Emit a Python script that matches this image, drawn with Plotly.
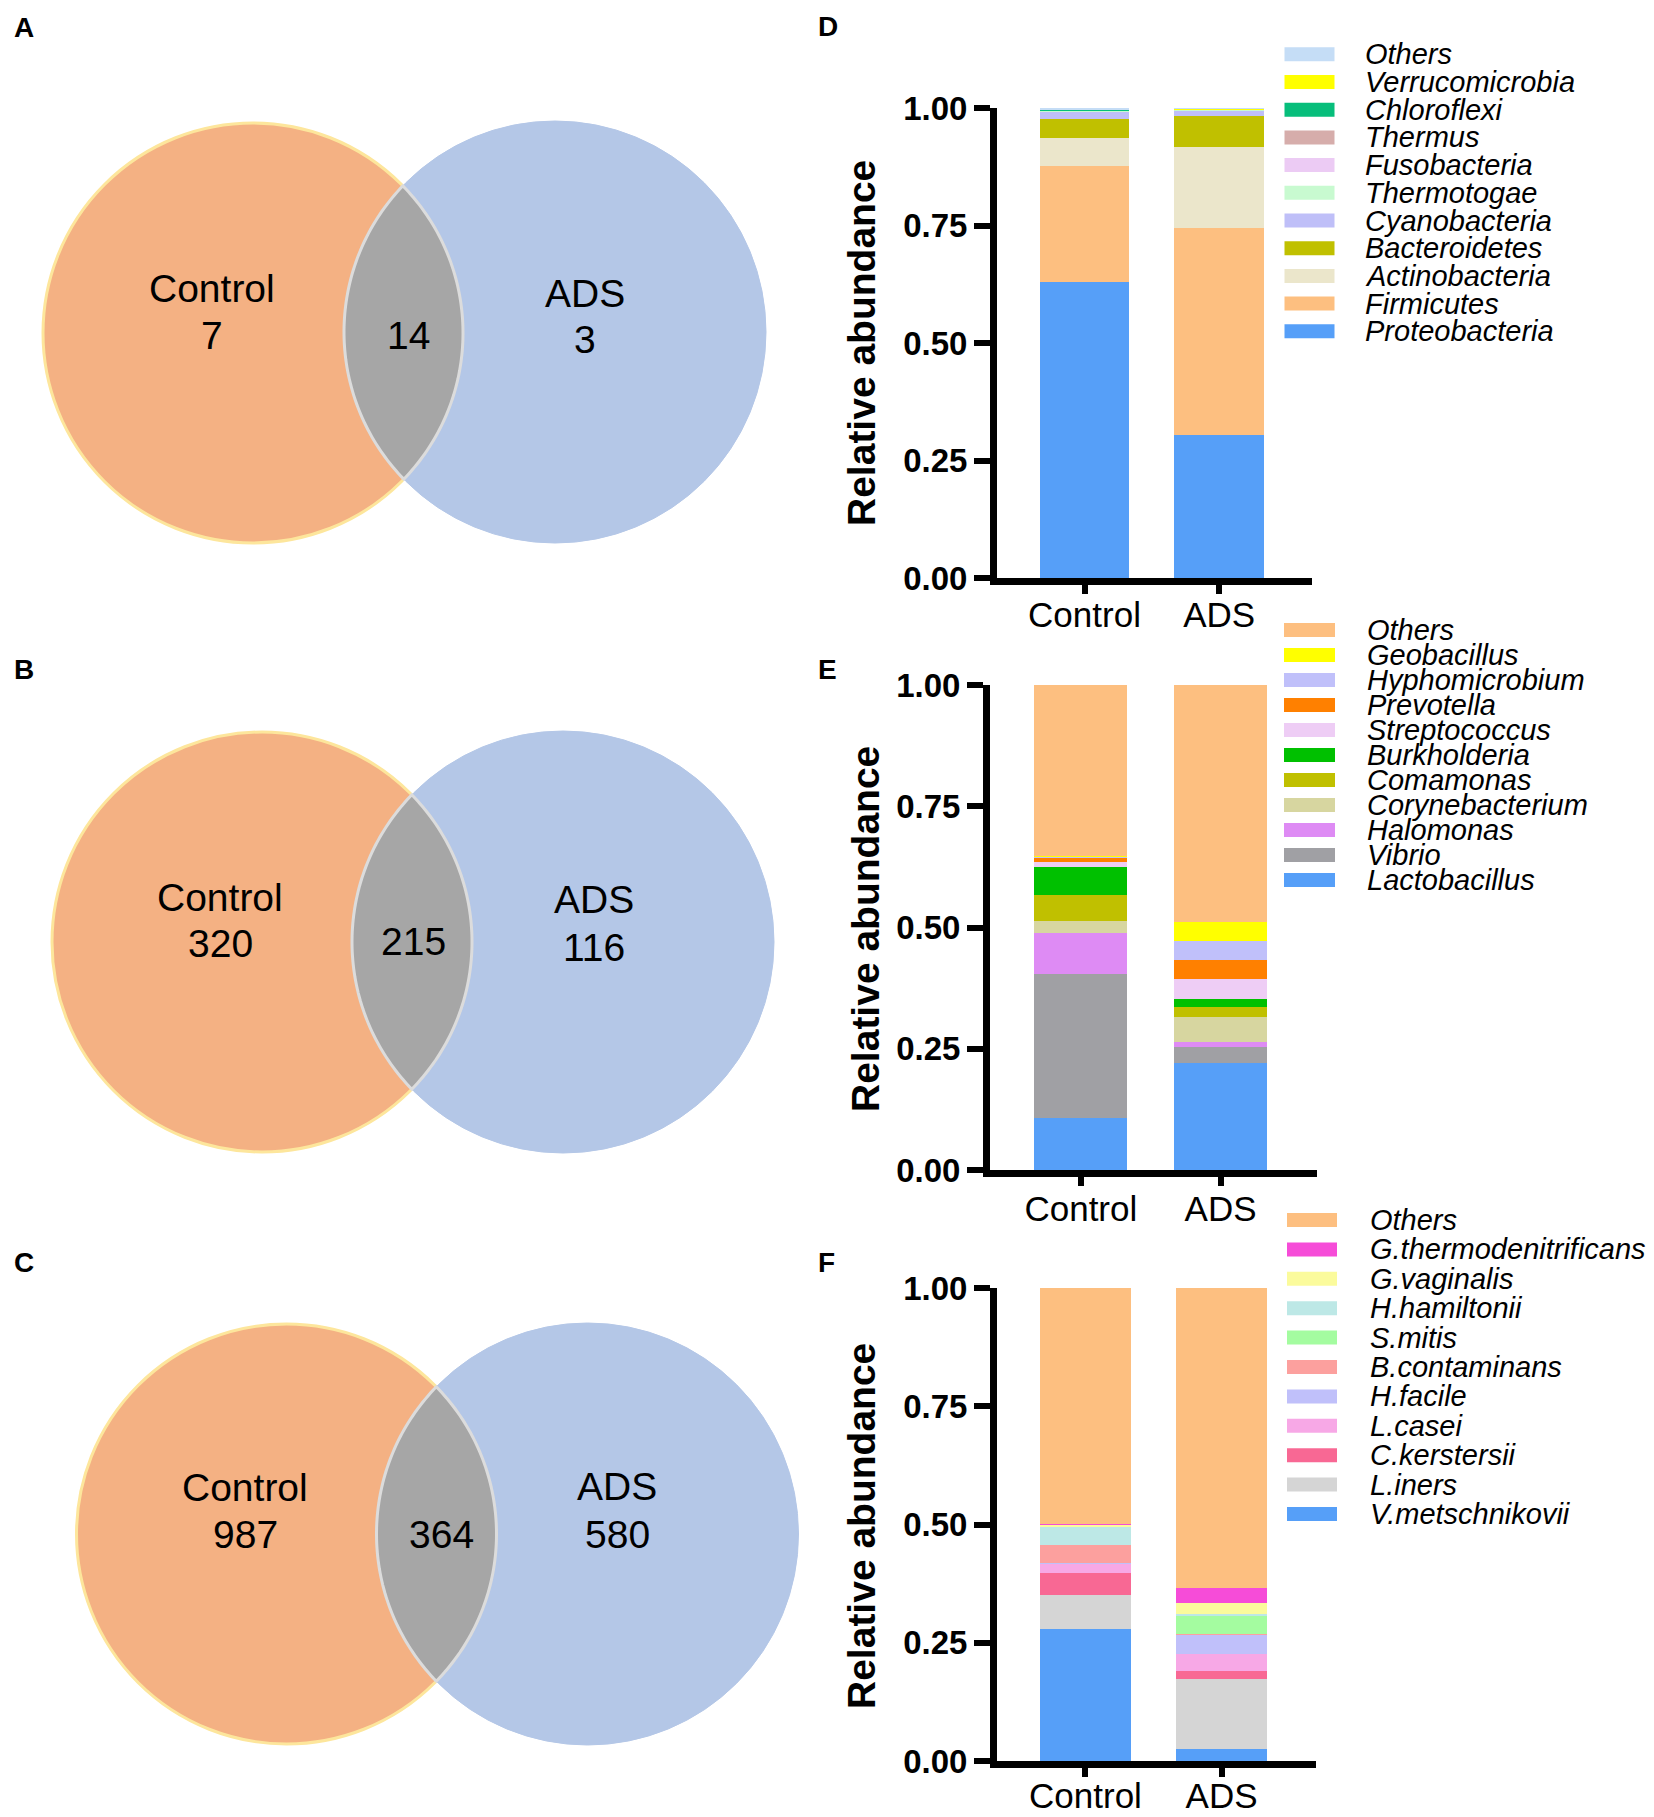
import numpy as np
import plotly.graph_objects as go

W, H = 1654, 1817
FONT = "Liberation Sans, Arial, Helvetica, sans-serif"

# ---------------- data ----------------
groups = ["Control", "ADS"]
tick_vals = [0, 0.25, 0.5, 0.75, 1.0]
tick_labels = ["0.00", "0.25", "0.50", "0.75", "1.00"]

# Panel D - phylum (bottom -> top of stack)
phylum_names = ["Proteobacteria", "Firmicutes", "Actinobacteria", "Bacteroidetes", "Cyanobacteria",
                "Thermotogae", "Fusobacteria", "Thermus", "Chloroflexi", "Verrucomicrobia", "Others"]
phylum_control = [0.629, 0.247, 0.061, 0.039, 0.016, 0.001, 0.001, 0.0005, 0.0003, 0.0002, 0.005]
phylum_ads = [0.304, 0.441, 0.171, 0.067, 0.011, 0.001, 0.001, 0.0005, 0.0003, 0.0002, 0.003]
phylum_colors = ["#569ff8", "#fdbf80", "#ebe6cb", "#c0c000", "#bfbff8",
                 "#c8fad0", "#eccbf4", "#d6adab", "#07be7b", "#ffff00", "#c5ddf6"]

# Panel E - genus
genus_names = ["Lactobacillus", "Vibrio", "Halomonas", "Corynebacterium", "Comamonas",
               "Burkholderia", "Streptococcus", "Prevotella", "Hyphomicrobium", "Geobacillus", "Others"]
genus_control = [0.107, 0.298, 0.083, 0.026, 0.054, 0.056, 0.011, 0.009, 0.002, 0.001, 0.353]
genus_ads = [0.220, 0.034, 0.010, 0.051, 0.022, 0.015, 0.042, 0.038, 0.041, 0.038, 0.489]
genus_colors = ["#569ff8", "#a0a0a4", "#de8bf4", "#d7d6a0", "#c0c000",
                "#00c000", "#eecdf5", "#ff8000", "#c0c0fa", "#ffff00", "#fdbf80"]

# Panel F - species
species_names = ["V.metschnikovii", "L.iners", "C.kerstersii", "L.casei", "H.facile",
                 "B.contaminans", "S.mitis", "H.hamiltonii", "G.vaginalis", "G.thermodenitrificans", "Others"]
species_control = [0.280, 0.072, 0.046, 0.019, 0.001, 0.038, 0.001, 0.037, 0.006, 0.0005, 0.4995]
species_ads = [0.026, 0.148, 0.016, 0.036, 0.040, 0.002, 0.039, 0.003, 0.024, 0.031, 0.635]
species_colors = ["#569ff8", "#d5d5d5", "#f86894", "#f7a8e6", "#c0c0fa",
                  "#fca09e", "#a4fca0", "#bde8e6", "#fbfb9c", "#f64cd8", "#fdbf80"]

# Venn panels A, B, C: [Control only, shared, ADS only]
venn_sets = ["Control", "ADS"]
venn_A = [7, 14, 3]
venn_B = [320, 215, 116]
venn_C = [987, 364, 580]

# ---------------- layout geometry (pixels) ----------------
bar_panels = [
    dict(label="D", names=phylum_names, ctrl=phylum_control, ads=phylum_ads, colors=phylum_colors,
         ax="", xdom=(997, 1312), ydom=(578, 108), title_xy=(861, 343), xlab_shift=-9,
         leg_x=(1284.5, 1334.5), leg_text_x=1363, leg_y0=54.3, leg_dy=27.7, label_xy=(816, 26)),
    dict(label="E", names=genus_names, ctrl=genus_control, ads=genus_ads, colors=genus_colors,
         ax="2", xdom=(990, 1317), ydom=(1170, 685), title_xy=(865, 929), xlab_shift=-7,
         leg_x=(1284, 1335), leg_text_x=1365, leg_y0=630, leg_dy=25.0, label_xy=(816, 669)),
    dict(label="F", names=species_names, ctrl=species_control, ads=species_ads, colors=species_colors,
         ax="3", xdom=(997, 1315.5), ydom=(1761, 1288), title_xy=(861, 1526), xlab_shift=-11,
         leg_x=(1287, 1337), leg_text_x=1368, leg_y0=1220, leg_dy=29.4, label_xy=(816, 1262)),
]

venn_panels = [
    dict(label="A", counts=venn_A, c1=(253, 333), r1=210, c2=(555, 332), r2=211,
         t_ctrl=(212, 288), t_ctrl_n=(212, 335), t_mid=(408, 335), t_ads=(585, 293), t_ads_n=(585, 339),
         label_xy=(12, 27)),
    dict(label="B", counts=venn_B, c1=(262, 942), r1=210, c2=(563, 942), r2=211,
         t_ctrl=(220, 897), t_ctrl_n=(220, 943), t_mid=(413, 941), t_ads=(594, 899), t_ads_n=(594, 947),
         label_xy=(12, 669)),
    dict(label="C", counts=venn_C, c1=(286.5, 1534), r1=210, c2=(587.5, 1534), r2=211,
         t_ctrl=(245, 1487), t_ctrl_n=(245, 1534.5), t_mid=(441, 1534.5), t_ads=(617, 1486.5),
         t_ads_n=(617, 1534), label_xy=(12, 1262)),
]


def fx(px):
    return px / W


def fy(py):
    return 1 - py / H


fig = go.Figure()
shapes = []
annotations = []

# ---------------- stacked bars ----------------
for p in bar_panels:
    xa = "x" + p["ax"]
    ya = "y" + p["ax"]
    for name, c, a, col in zip(p["names"], p["ctrl"], p["ads"], p["colors"]):
        fig.add_trace(go.Bar(x=groups, y=[c, a], name=name, marker=dict(color=col, line=dict(width=0)),
                             width=0.667, xaxis=xa, yaxis=ya, showlegend=False))
    key = p["ax"]
    fig.layout["xaxis" + key] = dict(
        domain=[fx(p["xdom"][0]), fx(p["xdom"][1])], anchor=ya, type="category",
        range=[-0.65, 1.69], showline=True, linecolor="black", linewidth=7,
        ticks="outside", ticklen=9, tickwidth=6, tickcolor="black",
        tickfont=dict(family=FONT, size=35, color="black"), automargin=False,
        ticklabelstandoff=p["xlab_shift"],
        showgrid=False, zeroline=False, fixedrange=True)
    fig.layout["yaxis" + key] = dict(
        domain=[fy(p["ydom"][0]), fy(p["ydom"][1])], anchor=xa, range=[0, 1],
        tickvals=tick_vals, ticktext=tick_labels, showline=True, linecolor="black", linewidth=7,
        ticks="outside", ticklen=16, tickwidth=6, tickcolor="black",
        tickfont=dict(family=FONT, size=33, color="black", weight="bold"), automargin=False,
        showgrid=False, zeroline=False, fixedrange=True)
    annotations.append(dict(x=p["title_xy"][0], y=p["title_xy"][1], xref="x4", yref="y4",
                            text="Relative abundance", textangle=-90, showarrow=False,
                            font=dict(family=FONT, size=39, color="black", weight="bold"),
                            xanchor="center", yanchor="middle"))
    # legend drawn as swatches + labels (top row = last stacked item)
    n = len(p["names"])
    for row, idx in enumerate(range(n - 1, -1, -1)):
        yc = p["leg_y0"] + row * p["leg_dy"]
        shapes.append(dict(type="rect", xref="x4", yref="y4", x0=p["leg_x"][0], x1=p["leg_x"][1],
                           y0=yc - 7, y1=yc + 7, fillcolor=p["colors"][idx], line=dict(width=0)))
        annotations.append(dict(x=p["leg_text_x"], y=yc, xref="x4", yref="y4", text=p["names"][idx],
                                showarrow=False, xanchor="left", yanchor="middle",
                                font=dict(family=FONT, size=29, color="black", style="italic")))
    annotations.append(dict(x=p["label_xy"][0], y=p["label_xy"][1], xref="x4", yref="y4", text=p["label"],
                            showarrow=False, xanchor="left", yanchor="middle",
                            font=dict(family=FONT, size=28, color="black", weight="bold")))

# ---------------- overlay axis in pixel units ----------------
fig.add_trace(go.Scatter(x=[], y=[], xaxis="x4", yaxis="y4", showlegend=False, hoverinfo="skip"))
fig.layout["xaxis4"] = dict(domain=[0, 1], range=[0, W], visible=False, fixedrange=True, anchor="y4",
                            automargin=False)
fig.layout["yaxis4"] = dict(domain=[0, 1], range=[H, 0], visible=False, fixedrange=True, anchor="x4",
                            automargin=False)


def lens_path(c1, r1, c2, r2, n=80):
    c1 = np.array(c1, float)
    c2 = np.array(c2, float)
    d = np.linalg.norm(c2 - c1)
    phi = np.arctan2(c2[1] - c1[1], c2[0] - c1[0])
    a = (r1 ** 2 - r2 ** 2 + d ** 2) / (2 * d)
    h = np.sqrt(r1 ** 2 - a ** 2)
    t1 = np.arctan2(h, a)
    t2 = np.arctan2(h, d - a)
    ang1 = phi + np.linspace(-t1, t1, n)
    ang2 = phi + np.pi + np.linspace(-t2, t2, n)
    pts = [c1 + r1 * np.array([np.cos(t), np.sin(t)]) for t in ang1]
    pts += [c2 + r2 * np.array([np.cos(t), np.sin(t)]) for t in ang2]
    return "M " + " L ".join(f"{x:.2f},{y:.2f}" for x, y in pts) + " Z"


for v in venn_panels:
    (x1, y1), r1 = v["c1"], v["r1"]
    (x2, y2), r2 = v["c2"], v["r2"]
    shapes.append(dict(type="circle", xref="x4", yref="y4", x0=x1 - r1, x1=x1 + r1, y0=y1 - r1, y1=y1 + r1,
                       fillcolor="#f4b183", line=dict(color="#fde69c", width=3), layer="above"))
    shapes.append(dict(type="circle", xref="x4", yref="y4", x0=x2 - r2, x1=x2 + r2, y0=y2 - r2, y1=y2 + r2,
                       fillcolor="#b4c7e7", line=dict(color="#b4c7e7", width=1), layer="above"))
    shapes.append(dict(type="path", xref="x4", yref="y4", path=lens_path(v["c1"], r1, v["c2"], r2),
                       fillcolor="#a6a6a6", line=dict(color="#dcdcdc", width=3), layer="above"))
    c_only, shared, a_only = v["counts"]
    items = [(v["t_ctrl"], venn_sets[0]), (v["t_ctrl_n"], str(c_only)), (v["t_mid"], str(shared)),
             (v["t_ads"], venn_sets[1]), (v["t_ads_n"], str(a_only))]
    for (tx, ty), txt in items:
        annotations.append(dict(x=tx, y=ty, xref="x4", yref="y4", text=txt, showarrow=False,
                                xanchor="center", yanchor="middle",
                                font=dict(family=FONT, size=39, color="black")))
    annotations.append(dict(x=v["label_xy"][0], y=v["label_xy"][1], xref="x4", yref="y4", text=v["label"],
                            showarrow=False, xanchor="left", yanchor="middle",
                            font=dict(family=FONT, size=28, color="black", weight="bold")))

fig.update_layout(
    width=W, height=H, margin=dict(l=0, r=0, t=0, b=0, pad=0, autoexpand=False),
    paper_bgcolor="white", plot_bgcolor="rgba(0,0,0,0)",
    barmode="stack", bargap=0, showlegend=False,
    shapes=shapes, annotations=annotations,
    font=dict(family=FONT, color="black"),
)

pin_js = ("document.documentElement.style.margin='0';document.documentElement.style.padding='0';"
          "document.documentElement.style.overflow='hidden';"
          "document.body.style.margin='0';document.body.style.padding='0';document.body.style.overflow='hidden';"
          "var gd=document.getElementById('{plot_id}');gd.style.position='fixed';gd.style.left='0px';"
          "gd.style.top='0px';")

fig.write_html("out.html", config={"displayModeBar": False, "staticPlot": True}, post_script=pin_js)
